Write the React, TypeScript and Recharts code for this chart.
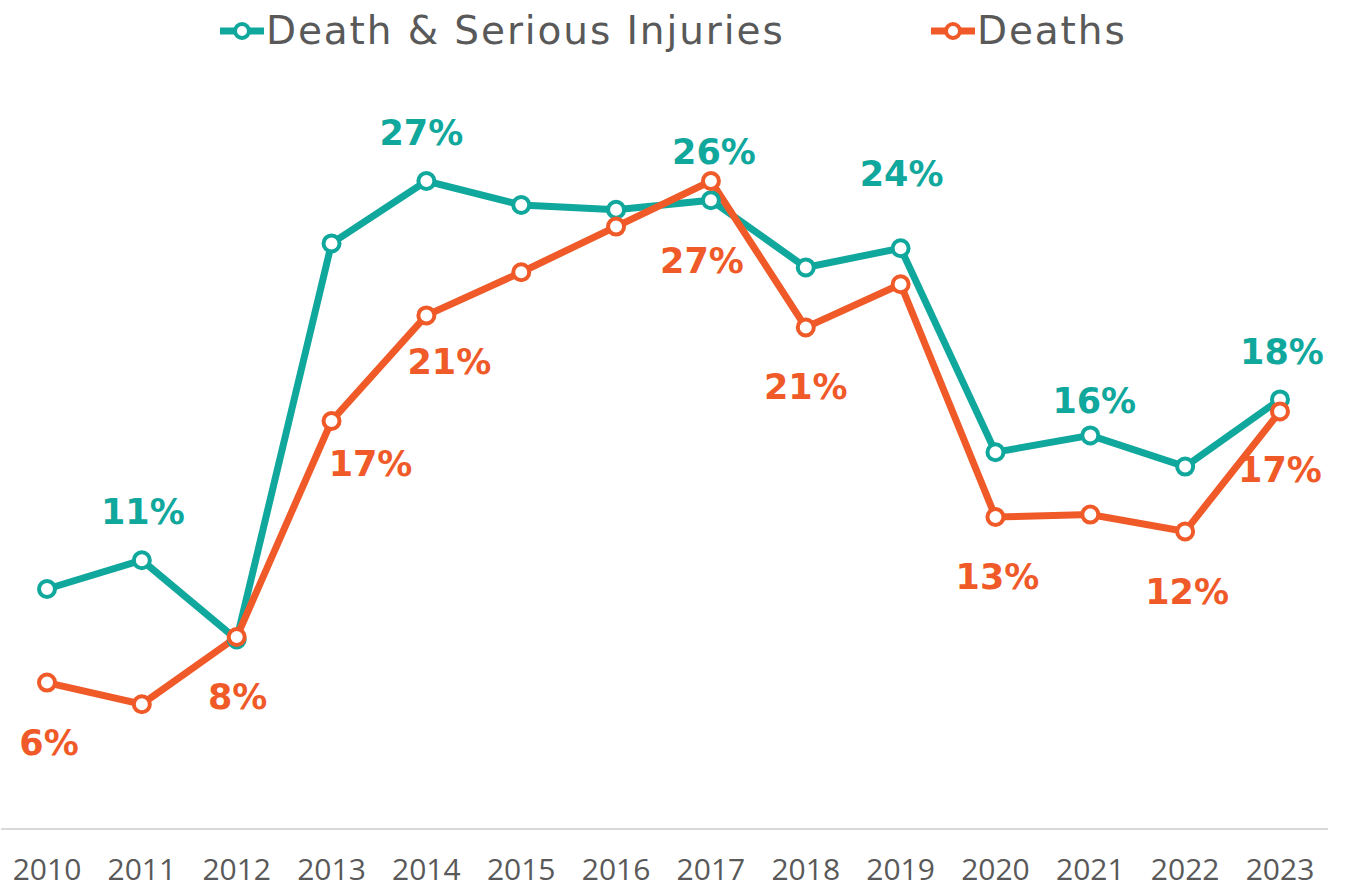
import React from "react"
import { LineChart, Line, XAxis, YAxis, LabelList } from "recharts"

const years = ["2010", "2011", "2012", "2013", "2014", "2015", "2016", "2017", "2018", "2019", "2020", "2021", "2022", "2023"]
const seriousValues = [10.0, 11.2, 7.9, 24.4, 27.0, 26.0, 25.8, 26.2, 23.4, 24.2, 15.7, 16.4, 15.1, 17.9]
const deathValues = [6.1, 5.2, 8.0, 17.0, 21.4, 23.2, 25.1, 27.0, 20.9, 22.7, 13.0, 13.1, 12.4, 17.4]
const seriousLabels = [null, "11%", null, null, "27%", null, null, "26%", null, "24%", null, "16%", null, "18%"]
const deathLabels = ["6%", null, "8%", "17%", "21%", null, null, "27%", "21%", null, "13%", null, "12%", "17%"]

const TEAL = "#10A79C"
const ORANGE = "#F05A28"
const GREY = "#595959"
const FONT = "'Open Sans', sans-serif"
const WIDE = "'DejaVu Sans', sans-serif"

const data = years.map((year, i) => ({
  year,
  serious: seriousValues[i],
  deaths: deathValues[i],
  seriousLabel: seriousLabels[i],
  deathLabel: deathLabels[i],
}))

// label centre offsets relative to the dot
const seriousOffsets: Record<number, [number, number]> = {
  1: [1, -48], 4: [-5, -48], 7: [3, -48], 9: [1, -74], 11: [4, -34], 13: [2, -47],
}
const deathOffsets: Record<number, [number, number]> = {
  0: [2, 60], 2: [1, 60], 3: [39, 43], 4: [23, 47], 7: [-9, 80], 8: [0, 60], 10: [2, 60], 12: [2, 61], 13: [0, 59],
}

const makeLabel = (color: string, offsets: Record<number, [number, number]>) => (props: any) => {
  const { x, y, value, index } = props
  if (!value) return null
  const [dx, dy] = offsets[index] ?? [0, -48]
  return (
    <text
      x={x + dx}
      y={y + dy}
      fill={color}
      fontSize={35}
      fontWeight={700}
      fontFamily={WIDE}
      textAnchor="middle"
      dominantBaseline="central"
    >
      {value}
    </text>
  )
}

function LegendItem({ color, label, left }: { color: string; label: string; left: number }) {
  return (
    <div style={{ position: "absolute", left, top: 6, display: "flex", alignItems: "center" }}>
      <svg width={48} height={50}>
        <line x1={2} y1={25} x2={46} y2={25} stroke={color} strokeWidth={7} />
        <circle cx={24} cy={25} r={7} fill="#fff" stroke={color} strokeWidth={4} />
      </svg>
      <span style={{ fontFamily: WIDE, fontSize: 39, letterSpacing: 1.9, color: GREY, lineHeight: "50px" }}>{label}</span>
    </div>
  )
}

export default function App() {
  return (
    <div style={{ position: "absolute", left: 0, top: 0, width: 1348, height: 891, background: "#fff" }}>
      <LegendItem color={TEAL} label="Death & Serious Injuries" left={218} />
      <LegendItem color={ORANGE} label="Deaths" left={929} />
      <LineChart width={1348} height={891} data={data} margin={{ top: 109, right: 20, bottom: 0, left: 1 }}>
        <XAxis
          dataKey="year"
          axisLine={{ stroke: "#d9d9d9", strokeWidth: 2 }}
          tickLine={false}
          tickSize={0}
          tickMargin={30}
          height={62}
          interval={0}
          padding={{ left: 46, right: 48 }}
          tick={{ fill: GREY, fontSize: 30, fontFamily: FONT }}
        />
        <YAxis hide domain={[0, 30]} />
        <Line
          type="linear"
          dataKey="serious"
          stroke={TEAL}
          strokeWidth={7}
          dot={{ r: 8, fill: "#fff", stroke: TEAL, strokeWidth: 4 }}
          activeDot={false}
          isAnimationActive={false}
        >
          <LabelList dataKey="seriousLabel" content={makeLabel(TEAL, seriousOffsets)} />
        </Line>
        <Line
          type="linear"
          dataKey="deaths"
          stroke={ORANGE}
          strokeWidth={7}
          dot={{ r: 8, fill: "#fff", stroke: ORANGE, strokeWidth: 4 }}
          activeDot={false}
          isAnimationActive={false}
        >
          <LabelList dataKey="deathLabel" content={makeLabel(ORANGE, deathOffsets)} />
        </Line>
      </LineChart>
    </div>
  )
}
